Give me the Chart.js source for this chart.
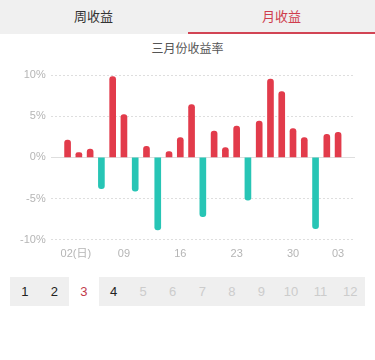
<!DOCTYPE html>
<html><head><meta charset="utf-8">
<script src="https://cdn.jsdelivr.net/npm/chart.js@4.4.1/dist/chart.umd.min.js"></script>
<style>
html,body{margin:0;padding:0;background:#fff;width:375px;height:360px;overflow:hidden;font-family:"Liberation Sans","Noto Sans CJK SC",sans-serif;}
#tabs{position:absolute;left:0;top:0;width:375px;height:34px;background:#f0f0f0;}
.tab{position:absolute;top:0;height:34px;line-height:32px;width:187px;text-align:center;font-size:13px;font-family:"Noto Sans CJK SC",sans-serif;}
#t1{left:0;color:#333;}
#t2{left:188px;color:#cf3d4d;}
#ul{position:absolute;left:188px;top:32px;width:187px;height:2px;background:#d24454;}
#title{position:absolute;left:0;top:39px;width:375px;text-align:center;font-size:12px;color:#555;font-family:"Noto Sans CJK SC",sans-serif;line-height:18px;}
#box{position:absolute;left:0;top:60px;width:375px;height:211px;}
#months{position:absolute;left:10px;top:277px;width:355px;height:29px;background:#efefef;display:flex;}
.m{flex:1;text-align:center;line-height:29px;font-size:13px;color:#ccc;}
.m.on{color:#222;}
.m.sel{background:#fff;color:#c23a4b;}
</style></head>
<body>
<div id="tabs"><div class="tab" id="t1">周收益</div><div class="tab" id="t2">月收益</div><div id="ul"></div></div>
<div id="title">三月份收益率</div>
<div id="box"><canvas id="c"></canvas></div>
<div id="months"></div>
<script>
const dates = ["02(日)","03","04","05","06","09","10","11","12","13","16","17","18","19","20","23","24","25","26","27","30","31","01","02","03"];
const tickDates = ["02(日)","09","16","23","30","03"];
const tickIndex = [0,5,10,15,20,24];
const returns = [2.1,0.6,1.0,-3.8,9.8,5.2,-4.1,1.35,-8.8,0.7,2.4,6.4,-7.2,3.2,1.2,3.8,-5.2,4.4,9.5,8.0,3.5,2.4,-8.65,2.8,3.05];
const yTicks = [-10,-5,0,5,10];
const months = ["1","2","3","4","5","6","7","8","9","10","11","12"];
const selMonth = 3, lastMonth = 4;

const mEl = document.getElementById('months');
months.forEach((m,i)=>{const d=document.createElement('div');d.className='m'+((i+1)===selMonth?' sel':((i+1)<=lastMonth?' on':''));d.textContent=m;mEl.appendChild(d);});

const labels = [''].concat(dates.map((d,i)=>{const k=tickIndex.indexOf(i);return k>=0?tickDates[k]:'';}),['']);
const data = [null].concat(returns,[null]);
const RED='#e23b4b', TEAL='#27c5b5';
new Chart(document.getElementById('c'),{
  type:'bar',
  data:{labels:labels,datasets:[{data:data,
    backgroundColor:ctx=>ctx.raw<0?TEAL:RED,
    barThickness:6,borderRadius:3,borderSkipped:'start'}]},
  options:{responsive:true,maintainAspectRatio:false,animation:false,
    layout:{padding:{left:15,right:20,top:15,bottom:2}},
    plugins:{legend:{display:false},tooltip:{enabled:false}},
    scales:{
      x:{grid:{display:false,drawTicks:false},border:{display:false},
        ticks:{autoSkip:false,maxRotation:0,padding:8,color:'#b5b5b5',font:{size:11,family:'"Liberation Sans","Noto Sans CJK SC",sans-serif'},
          callback:function(v,i){const l=labels[i];return l==="02(日)"?"\u2002\u2002\u2002"+l:l;}}},
      y:{min:-10,max:10,
        afterBuildTicks:ax=>{ax.ticks=yTicks.map(v=>({value:v}));},
        grid:{color:'#dedede',lineWidth:1,drawTicks:false},
        border:{display:false,dash:ctx=>(ctx.tick&&ctx.tick.value===0)?[]:[2,2]},
        ticks:{padding:5,color:'#b5b5b5',font:{size:11,family:'"Liberation Sans",sans-serif'},callback:v=>v+'%'}}
    }}
});
</script>
</body></html>
